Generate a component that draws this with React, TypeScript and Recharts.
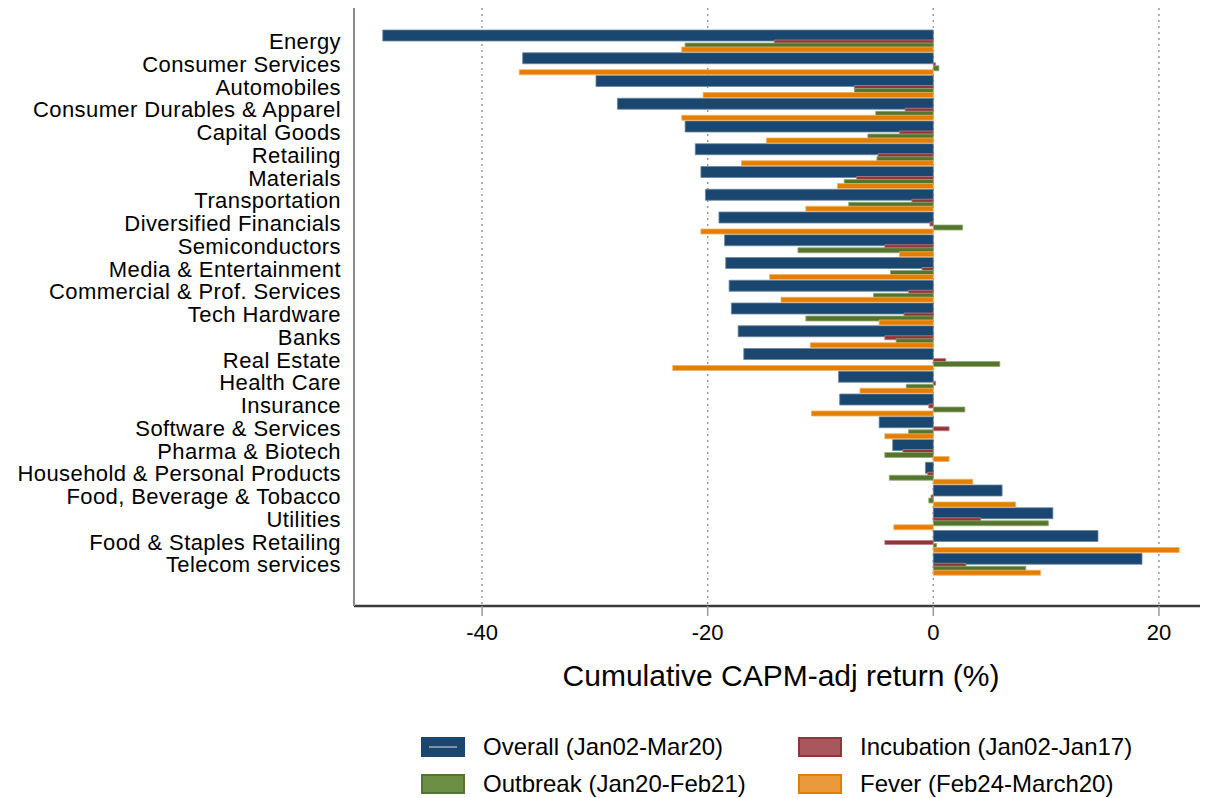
import React from "react";
import {
  Bar,
  BarChart,
  CartesianGrid,
  XAxis,
  YAxis,
} from "recharts";

const industries = [
  "Energy",
  "Consumer Services",
  "Automobiles",
  "Consumer Durables & Apparel",
  "Capital Goods",
  "Retailing",
  "Materials",
  "Transportation",
  "Diversified Financials",
  "Semiconductors",
  "Media & Entertainment",
  "Commercial & Prof. Services",
  "Tech Hardware",
  "Banks",
  "Real Estate",
  "Health Care",
  "Insurance",
  "Software & Services",
  "Pharma & Biotech",
  "Household & Personal Products",
  "Food, Beverage & Tobacco",
  "Utilities",
  "Food & Staples Retailing",
  "Telecom services",
];

const overall = [
  -48.8, -36.4, -29.9, -28.0, -22.0, -21.1, -20.6, -20.2, -19.0, -18.5, -18.4,
  -18.1, -17.9, -17.3, -16.8, -8.4, -8.3, -4.8, -3.6, -0.7, 6.1, 10.6, 14.6,
  18.5,
];
const incubation = [
  -14.1, 0.2, -7.0, -2.5, -3.0, -4.9, -6.8, -1.9, -0.3, -4.3, -1.0, -2.2, -2.6,
  -4.3, 1.1, 0.2, -0.4, 1.4, -2.7, -0.5, -0.2, 4.2, -4.3, 2.9,
];
const outbreak = [
  -22.0, 0.5, -7.0, -5.1, -5.8, -5.0, -7.9, -7.5, 2.6, -12.0, -3.8, -5.3, -11.3,
  -3.3, 5.9, -2.4, 2.8, -2.2, -4.3, -3.9, -0.4, 10.2, 0.3, 8.2,
];
const fever = [
  -22.3, -36.7, -20.4, -22.3, -14.8, -17.0, -8.5, -11.3, -20.6, -3.0, -14.5,
  -13.5, -4.8, -10.9, -23.1, -6.5, -10.8, -4.3, 1.4, 3.5, 7.3, -3.5, 21.8, 9.5,
];

const xTicks = [-40, -20, 0, 20];

const seriesNames = {
  overall: "Overall (Jan02-Mar20)",
  incubation: "Incubation (Jan02-Jan17)",
  outbreak: "Outbreak (Jan20-Feb21)",
  fever: "Fever (Feb24-March20)",
};

const data = industries.map((name, i) => ({
  name,
  overall: overall[i],
  incubation: incubation[i],
  outbreak: outbreak[i],
  fever: fever[i],
}));

const FONT = "'Liberation Sans', Arial, Helvetica, sans-serif";

const legendItems = [
  { key: "overall", fill: "#1a476f", border: "#1a476f", line: true },
  { key: "incubation", fill: "#a8575c", border: "#90353b" },
  { key: "outbreak", fill: "#6c8e45", border: "#55752f" },
  { key: "fever", fill: "#ea9a3c", border: "#e37e00" },
];

function LegendBox() {
  return (
    <div
      style={{
        position: "absolute",
        left: 413,
        top: 737,
        display: "grid",
        gridTemplateColumns: "377px auto",
        rowGap: 17,
        fontFamily: FONT,
        fontSize: 24,
        color: "#000",
      }}
    >
      {legendItems.map((it) => (
        <div
          key={it.key}
          style={{ display: "flex", alignItems: "center", height: 20 }}
        >
          <div
            style={{
              position: "relative",
              width: 44,
              height: 20,
              boxSizing: "border-box",
              background: it.fill,
              border: `2px solid ${it.border}`,
              marginRight: 18,
            }}
          >
            {it.line && (
              <div
                style={{
                  position: "absolute",
                  left: 6,
                  right: 6,
                  top: 7,
                  height: 2,
                  background: "#7f93a8",
                }}
              />
            )}
          </div>
          <span>{seriesNames[it.key as keyof typeof seriesNames]}</span>
        </div>
      ))}
    </div>
  );
}

export default function App() {
  return (
    <div style={{ position: "relative", marginTop: -8, width: 1200, height: 798 }}>
      <BarChart
        width={1200}
        height={798}
        data={data}
        layout="vertical"
        barCategoryGap={0}
        barGap={-1}
        margin={{ top: 2, right: 0, left: 0, bottom: 112 }}
      >
        <CartesianGrid
          horizontal={false}
          stroke="#9a9a9a"
          strokeDasharray="2 4"
          strokeWidth={1.5}
        />
        <XAxis
          type="number"
          domain={[-51.35, 24.35]}
          ticks={xTicks}
          allowDataOverflow
          height={80}
          axisLine={{ stroke: "#3a3a3a", strokeWidth: 2.5 }}
          tickLine={{ stroke: "#9a9a9a", strokeWidth: 1.5 }}
          tickSize={10}
          tickMargin={8}
          tick={{ fill: "#000", fontSize: 22, fontFamily: FONT }}
          label={{
            value: "Cumulative CAPM-adj return (%)",
            position: "insideBottom",
            offset: 0,
            fill: "#000",
            fontSize: 30,
            fontFamily: FONT,
          }}
        />
        <YAxis
          type="category"
          dataKey="name"
          width={346}
          interval={0}
          padding={{ top: 28, bottom: 30 }}
          axisLine={{ stroke: "#8a8a8a", strokeWidth: 2 }}
          tickLine={false}
          tickSize={0}
          tickMargin={13}
          tick={{ fill: "#000", fontSize: 22, fontFamily: FONT, letterSpacing: 0.4 }}
        />
        <Bar
          dataKey="overall"
          name={seriesNames.overall}
          barSize={11}
          fill="#1a476f"
          stroke="#6d86a0"
          strokeWidth={0.8}
          isAnimationActive={false}
        />
        <Bar
          dataKey="incubation"
          name={seriesNames.incubation}
          barSize={4}
          fill="#93353c"
          stroke="#c07a7e"
          strokeWidth={0.8}
          isAnimationActive={false}
        />
        <Bar
          dataKey="outbreak"
          name={seriesNames.outbreak}
          barSize={5}
          fill="#55752f"
          stroke="#93ab76"
          strokeWidth={0.8}
          isAnimationActive={false}
        />
        <Bar
          dataKey="fever"
          name={seriesNames.fever}
          barSize={5}
          fill="#e37e00"
          stroke="#f0b066"
          strokeWidth={0.8}
          isAnimationActive={false}
        />
      </BarChart>
      <LegendBox />
    </div>
  );
}
